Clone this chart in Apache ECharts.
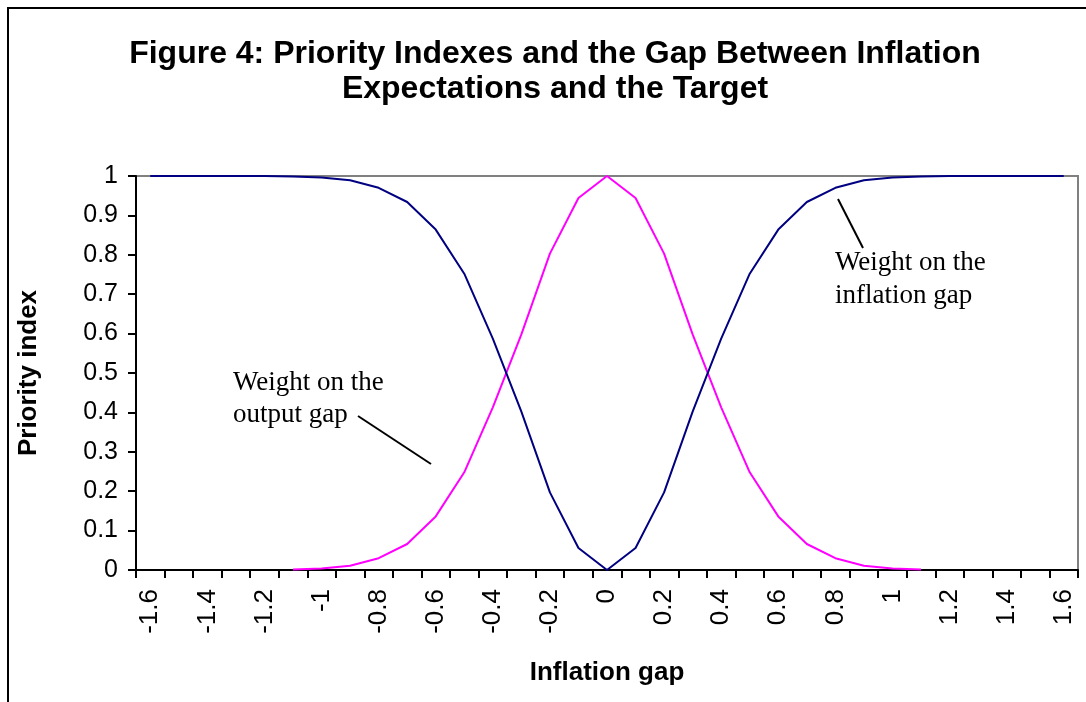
<!DOCTYPE html>
<html>
<head>
<meta charset="utf-8">
<title>Priority Indexes</title>
<script src="https://cdn.jsdelivr.net/npm/echarts@6/dist/echarts.min.js"></script>
<style>
  html, body { margin: 0; padding: 0; background: #fff; }
  #chart { width: 1086px; height: 702px; }
</style>
</head>
<body>
<div id="chart"></div>
<script>
// inflation gap categories
var gaps = ['-1.6', '-1.5', '-1.4', '-1.3', '-1.2', '-1.1', '-1', '-0.9', '-0.8', '-0.7', '-0.6',
  '-0.5', '-0.4', '-0.3', '-0.2', '-0.1', '0', '0.1', '0.2', '0.3', '0.4', '0.5',
  '0.6', '0.7', '0.8', '0.9', '1', '1.1', '1.2', '1.3', '1.4', '1.5', '1.6'];

// weight on the inflation gap (navy)
var inflationWeight = [1, 1, 1, 1, 1, 0.999, 0.996, 0.989, 0.97, 0.934, 0.864,
  0.752, 0.587, 0.402, 0.197, 0.056, 0, 0.056, 0.197, 0.402, 0.587, 0.752,
  0.864, 0.934, 0.97, 0.989, 0.996, 0.999, 1, 1, 1, 1, 1];

// weight on the output gap (magenta)
var outputWeight = [null, null, null, null, null, 0.001, 0.004, 0.011, 0.03, 0.066, 0.136,
  0.248, 0.413, 0.598, 0.803, 0.944, 1, 0.944, 0.803, 0.598, 0.413, 0.248,
  0.136, 0.066, 0.03, 0.011, 0.004, 0.001, null, null, null, null, null];

var yTicks = [0, 0.1, 0.2, 0.3, 0.4, 0.5, 0.6, 0.7, 0.8, 0.9, 1];

var myChart = echarts.init(document.getElementById('chart'));

var serif = '"Liberation Serif", "Times New Roman", serif';

myChart.setOption({
  animation: false,
  textStyle: { fontFamily: 'Arial, "Liberation Sans", sans-serif', color: '#000' },
  title: {
    text: 'Figure 4: Priority Indexes and the Gap Between Inflation\nExpectations and the Target',
    left: 550,
    top: 32,
    textAlign: 'center',
    textStyle: {
      fontSize: 32,
      fontWeight: 'bold',
      lineHeight: 35,
      color: '#000',
      fontFamily: 'Arial, "Liberation Sans", sans-serif'
    }
  },
  grid: {
    left: 136,
    right: 8,
    top: 176,
    bottom: 132,
    show: true,
    borderColor: '#808080',
    borderWidth: 2
  },
  xAxis: {
    type: 'category',
    data: gaps,
    boundaryGap: true,
    name: 'Inflation gap',
    nameLocation: 'middle',
    nameGap: 90,
    nameTextStyle: { fontSize: 26, fontWeight: 'bold', color: '#000' },
    axisLine: { lineStyle: { color: '#000', width: 2 } },
    axisTick: { show: true, interval: 0, length: 8, lineStyle: { color: '#000', width: 2 } },
    axisLabel: { interval: 1, rotate: 90, fontSize: 26, margin: 19, color: '#000' },
    splitLine: { show: false }
  },
  yAxis: {
    type: 'value',
    min: 0,
    max: 1,
    interval: 0.1,
    name: 'Priority index',
    nameLocation: 'middle',
    nameGap: 94,
    nameTextStyle: { fontSize: 26, fontWeight: 'bold', color: '#000' },
    axisLine: { show: true, lineStyle: { color: '#000', width: 2 } },
    axisTick: { show: true, length: 8, lineStyle: { color: '#000', width: 2 } },
    axisLabel: {
      fontSize: 25,
      margin: 18,
      color: '#000',
      formatter: function (v) {
        var t = yTicks.find(function (k) { return Math.abs(k - v) < 1e-6; });
        return String(t !== undefined ? t : v);
      }
    },
    splitLine: { show: false }
  },
  series: [
    {
      name: 'Weight on the output gap',
      type: 'line',
      data: outputWeight,
      showSymbol: false,
      symbol: 'none',
      lineStyle: { color: '#ff00ff', width: 2 },
      itemStyle: { color: '#ff00ff' }
    },
    {
      name: 'Weight on the inflation gap',
      type: 'line',
      data: inflationWeight,
      showSymbol: false,
      symbol: 'none',
      lineStyle: { color: '#000080', width: 2 },
      itemStyle: { color: '#000080' }
    }
  ],
  graphic: [
    // outer frame
    {
      type: 'rect',
      shape: { x: 8, y: 8, width: 1200, height: 900 },
      style: { fill: null, stroke: '#000', lineWidth: 2 },
      silent: true
    },
    // annotation: output gap
    {
      type: 'text',
      left: 233,
      top: 367,
      style: {
        text: 'Weight on the\noutput gap',
        font: '27px ' + serif,
        lineHeight: 32,
        fill: '#000'
      }
    },
    {
      type: 'line',
      shape: { x1: 358, y1: 416, x2: 431, y2: 464 },
      style: { stroke: '#000', lineWidth: 2 }
    },
    // annotation: inflation gap
    {
      type: 'text',
      left: 835,
      top: 246,
      style: {
        text: 'Weight on the\ninflation gap',
        font: '27px ' + serif,
        lineHeight: 33,
        fill: '#000'
      }
    },
    {
      type: 'line',
      shape: { x1: 838, y1: 199, x2: 863, y2: 248 },
      style: { stroke: '#000', lineWidth: 2 }
    }
  ]
});
</script>
</body>
</html>
